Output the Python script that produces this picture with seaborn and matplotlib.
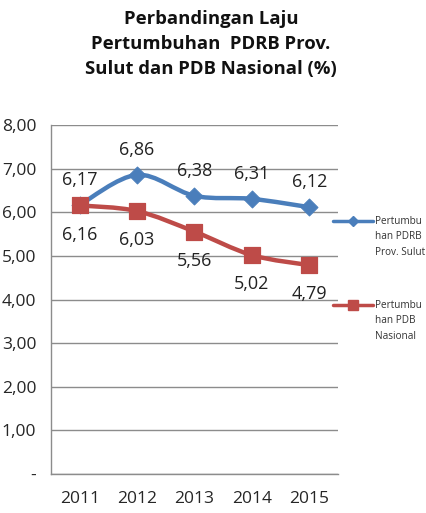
import numpy as np
import pandas as pd
import matplotlib
matplotlib.use("Agg")
import matplotlib.pyplot as plt
from matplotlib.path import Path
from matplotlib.patches import PathPatch
import seaborn as sns

years = ["2011", "2012", "2013", "2014", "2015"]
sulut = [6.17, 6.86, 6.38, 6.31, 6.12]
nasional = [6.16, 6.03, 5.56, 5.02, 4.79]
label_sulut = "Pertumbu\nhan PDRB\nProv. Sulut"
label_nas = "Pertumbu\nhan PDB\nNasional"
title = "Perbandingan Laju\nPertumbuhan  PDRB Prov.\nSulut dan PDB Nasional (%)"

blue = "#4A7EBB"
red = "#BE4B48"
grid = "#8C8C8C"

sns.set_style("white")
plt.rcParams["font.family"] = ["Open Sans", "DejaVu Sans"]

df = pd.DataFrame({"x": np.arange(len(years)), "sulut": sulut, "nas": nasional})

fig = plt.figure(figsize=(4.27, 5.13), dpi=100)
ax = fig.add_axes([0.1194, 0.076, 0.672, 0.680])


def smooth_path(xs, ys):
    # Catmull-Rom style bezier segments, like Excel's smoothed line
    pts = np.column_stack([xs, ys]).astype(float)
    verts = [pts[0]]
    codes = [Path.MOVETO]
    n = len(pts)
    for i in range(n - 1):
        p0 = pts[i - 1] if i > 0 else pts[i]
        p1 = pts[i]
        p2 = pts[i + 1]
        p3 = pts[i + 2] if i + 2 < n else pts[i + 1]
        c1 = p1 + (p2 - p0) / 6.0
        c2 = p2 - (p3 - p1) / 6.0
        verts += [c1, c2, p2]
        codes += [Path.CURVE4] * 3
    return Path(verts, codes)


for col, color in [("sulut", blue), ("nas", red)]:
    ax.add_patch(PathPatch(smooth_path(df["x"], df[col]), fill=False,
                           edgecolor=color, lw=3.2, capstyle="round", zorder=3))

sns.scatterplot(data=df, x="x", y="sulut", marker="D", s=75, color=blue,
                edgecolor=blue, ax=ax, zorder=4)
sns.scatterplot(data=df, x="x", y="nas", marker="s", s=120, color=red,
                edgecolor=red, ax=ax, zorder=4)

for i, v in enumerate(sulut):
    ax.annotate(f"{v:.2f}".replace(".", ","), (i, v), xytext=(0, 18),
                textcoords="offset points", ha="center", va="center",
                fontsize=13, color="#222222")
for i, v in enumerate(nasional):
    ax.annotate(f"{v:.2f}".replace(".", ","), (i, v), xytext=(0, -21),
                textcoords="offset points", ha="center", va="center",
                fontsize=13, color="#222222")

ax.set_xlim(-0.5, len(years) - 0.5)
ax.set_ylim(0, 8)
ax.set_yticks(np.arange(0, 9))
ax.set_yticklabels(["-"] + [f"{v:.2f}".replace(".", ",") for v in range(1, 9)],
                   fontsize=12.5)
ax.set_xticks(np.arange(len(years)))
ax.set_xticklabels(years, fontsize=12.5)
ax.set_xticks(np.arange(-0.5, len(years)), minor=True)
ax.tick_params(axis="x", which="major", length=0, pad=12)
ax.tick_params(axis="x", which="minor", length=4, color=grid, width=1)
ax.tick_params(axis="y", length=5, color=grid, width=1, pad=5.5)
ax.yaxis.grid(True, color=grid, lw=1)
ax.set_axisbelow(True)
ax.set_xlabel("")
ax.set_ylabel("")
for s in ["top", "right"]:
    ax.spines[s].set_visible(False)
for s in ["left", "bottom"]:
    ax.spines[s].set_color(grid)
    ax.spines[s].set_linewidth(1)

fig.text(211 / 427, 1 - 10 / 513, title, ha="center", va="top", fontsize=13.3,
         fontweight="bold", linespacing=1.5, color="#111111")

# legend entries
for (lab, color, mk, ms, ypix) in [(label_sulut, blue, "D", 5, 221),
                                  (label_nas, red, "s", 7, 305)]:
    yf = 1 - ypix / 513
    fig.add_artist(plt.Line2D([333 / 427, 373 / 427], [yf, yf], color=color,
                              lw=2.5, transform=fig.transFigure))
    fig.add_artist(plt.Line2D([353 / 427], [yf], marker=mk, ms=ms, color=color,
                              transform=fig.transFigure))
    fig.text(375 / 427, yf + 5 / 513, lab, ha="left", va="top", fontsize=7.2,
             linespacing=1.55, color="#333333")

fig.savefig("out.png", dpi=100, facecolor="white")
